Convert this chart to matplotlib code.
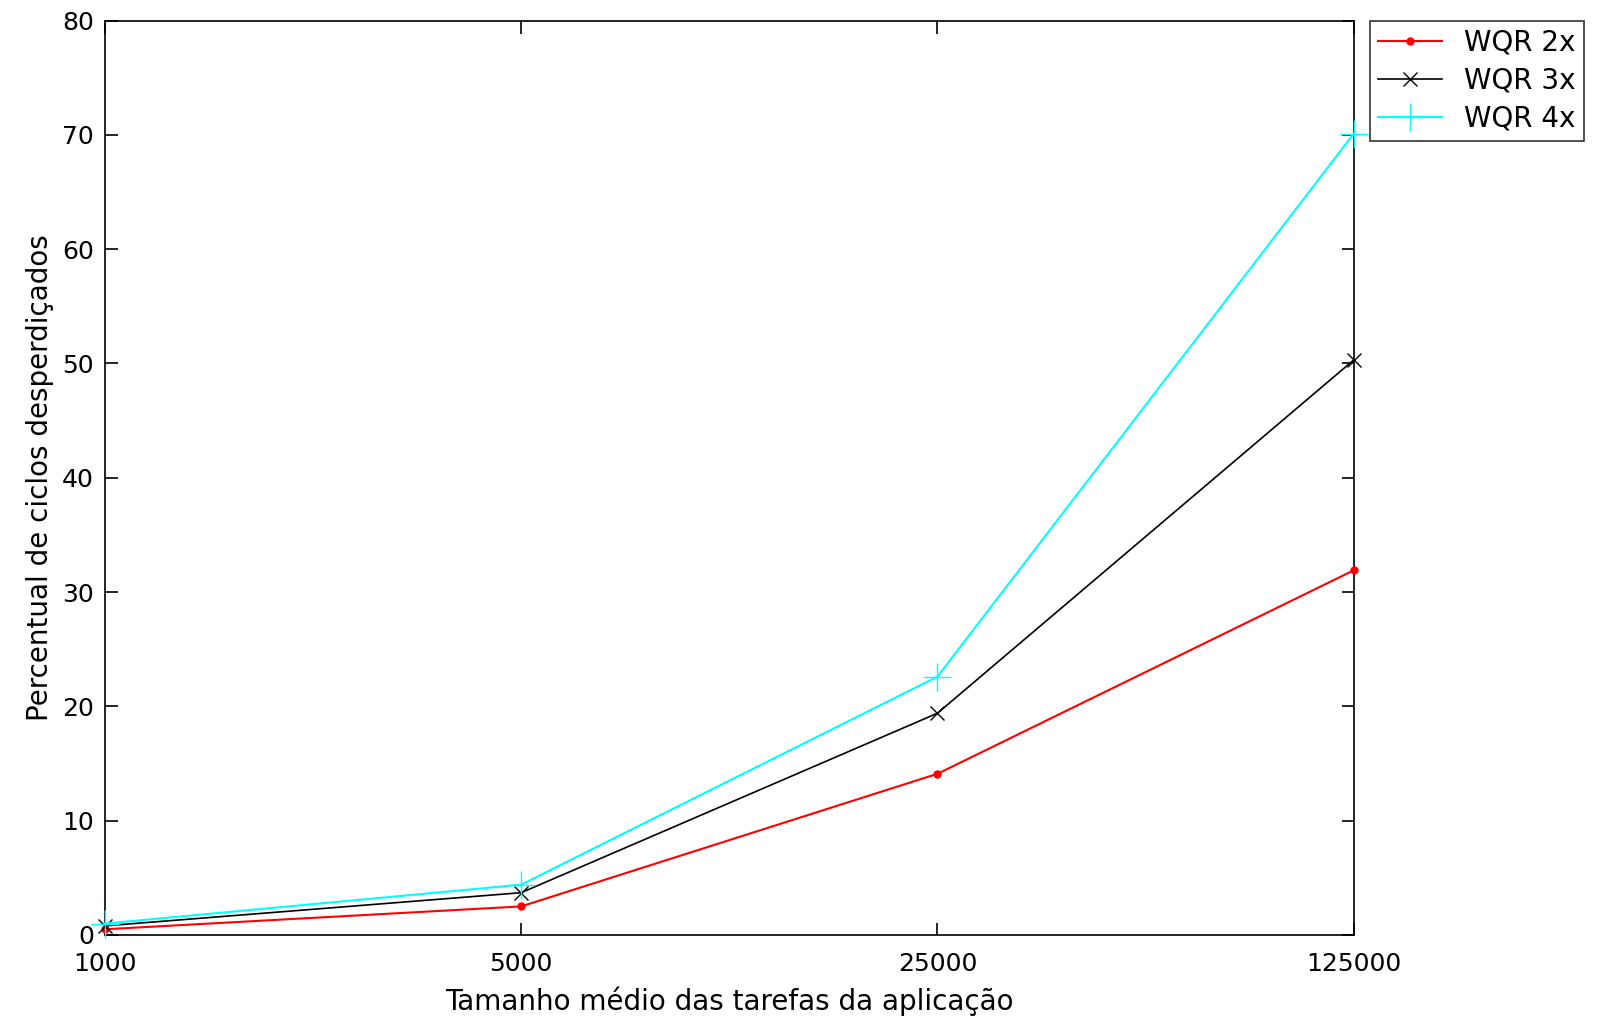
import matplotlib.pyplot as plt

tamanhos = [1000, 5000, 25000, 125000]
wqr_2x = [0.5, 2.5, 14.1, 31.9]
wqr_3x = [0.8, 3.7, 19.4, 50.3]
wqr_4x = [1.0, 4.4, 22.6, 70.1]

plt.rcParams['font.family'] = ['DejaVu Sans']

fig = plt.figure(figsize=(16.02, 10.26), dpi=100)
ax = fig.add_axes([0.0655, 0.0887, 0.7795, 0.8913])

ax.plot(tamanhos, wqr_2x, color='red', marker='.', markersize=10, linewidth=1.5,
        label='WQR 2x', clip_on=False, zorder=3)
ax.plot(tamanhos, wqr_3x, color='black', marker='x', markersize=10, linewidth=1.2,
        label='WQR 3x', clip_on=False, zorder=3)
ax.plot(tamanhos, wqr_4x, color='cyan', marker='+', markersize=20, linewidth=1.5,
        label='WQR 4x', clip_on=False, zorder=3)

ax.set_xscale('log')
ax.set_xlim(1000, 125000)
ax.set_ylim(0, 80)
ax.set_xticks(tamanhos)
ax.set_xticklabels([str(t) for t in tamanhos])
ax.minorticks_off()
ax.set_yticks(range(0, 81, 10))

ax.tick_params(direction='in', length=9, width=1.2, labelsize=18, top=True, right=True)
ax.tick_params(axis='x', pad=12)
ax.tick_params(axis='y', pad=8)
for s in ax.spines.values():
    s.set_linewidth(1.2)

ax.set_xlabel('Tamanho médio das tarefas da aplicação', fontsize=20, labelpad=8)
ax.set_ylabel('Percentual de ciclos desperdiçados', fontsize=20, labelpad=6)

leg = ax.legend(loc='upper left', bbox_to_anchor=(1.013, 1.0), fontsize=20, frameon=True,
                fancybox=False, edgecolor='black', handlelength=2.3, borderaxespad=0,
                labelspacing=0.35, borderpad=0.3)
leg.get_frame().set_linewidth(1.2)

fig.savefig('out.png', dpi=100)
